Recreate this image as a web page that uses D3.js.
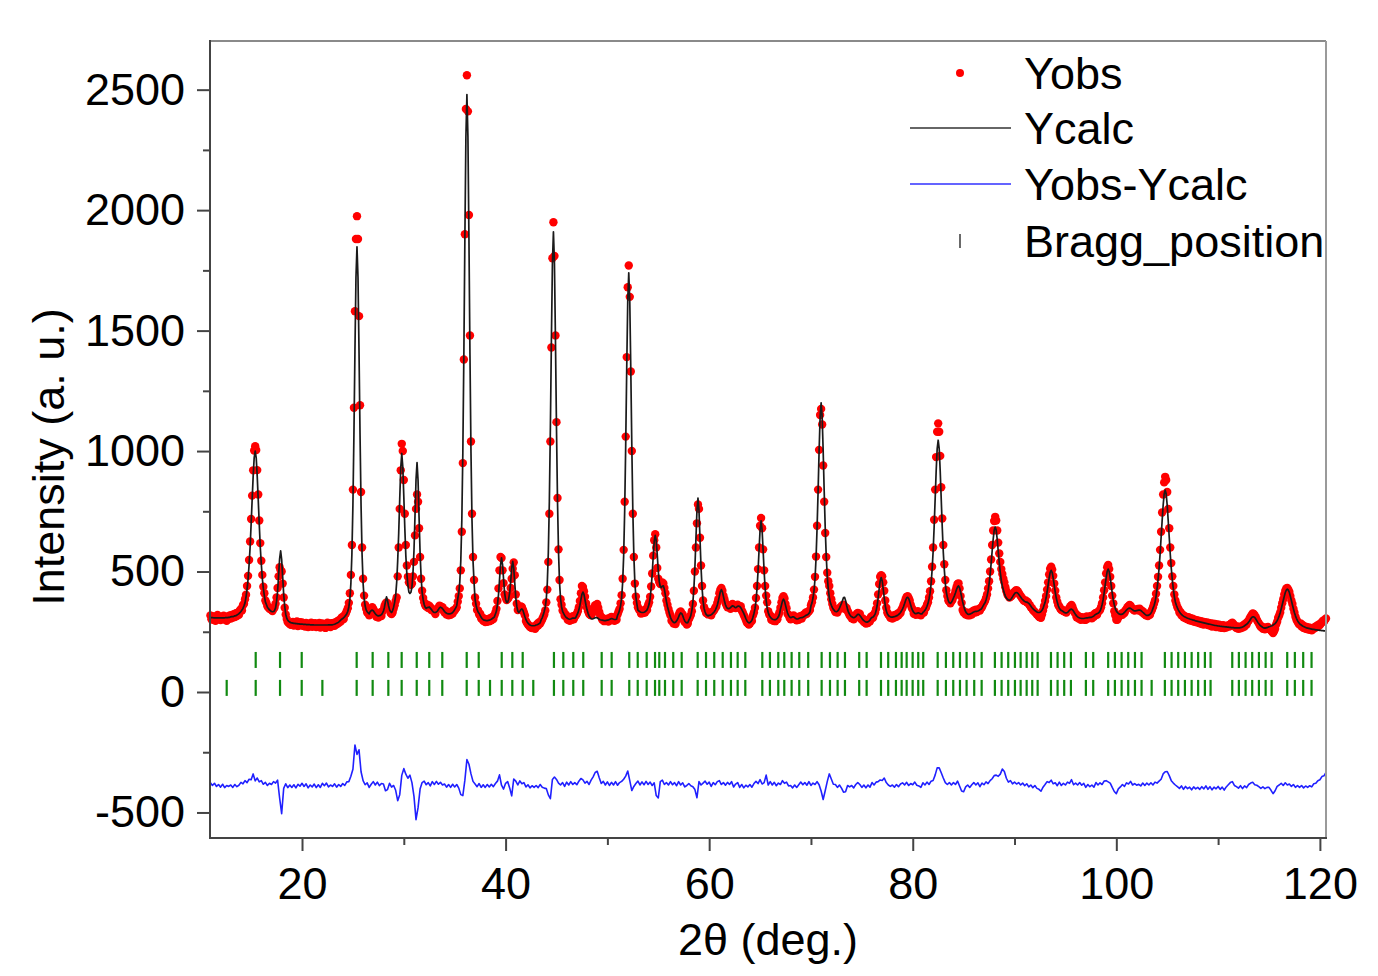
<!DOCTYPE html>
<html><head><meta charset="utf-8">
<script src="https://cdn.jsdelivr.net/npm/d3@7"></script>
<style>body{margin:0;background:#fff} svg{display:block} text{font-family:"Liberation Sans",Arial,sans-serif;fill:#000}</style>
</head><body><svg id="chart" width="1378" height="976"></svg>
<script>
// ---- DATA (2θ rows: row r starts at 11+r deg) ----
const obsStart = 11, obsStep = 0.1;
const yObs = [
[318,302,315,300,312,296,311,320,303,310],
[299,313,305,317,301,308,296,314,304,318],
[305,320,309,323,311,327,315,330,320,338],
[345,338,360,366,385,404,440,482,548,625],
[718,815,920,1002,1020,1004,921,820,712,618],
[545,486,437,410,380,370,356,352,345,347],
[340,336,345,351,366,392,432,480,518,505],
[500,450,392,350,322,303,290,286,282,279],
[280,291,276,288,279,293,274,286,290,277],
[289,275,284,272,287,279,270,283,276,288],
[271,284,275,286,270,280,273,287,268,282],
[285,272,281,266,279,288,274,283,270,286],
[276,287,275,290,281,295,286,300,292,309],
[311,303,320,326,336,348,370,410,486,610],
[840,1180,1580,1880,1975,1880,1560,1190,830,600],
[470,400,362,345,330,334,318,345,341,352],
[345,326,332,312,325,309,321,330,315,334],
[340,356,366,372,368,352,345,328,324,330],
[345,360,378,392,480,600,760,920,1030,1000],
[880,740,610,525,478,455,450,445,450,480],
[540,650,760,820,790,680,560,470,420,390],
[372,360,355,362,348,358,352,340,345,336],
[336,324,340,345,350,358,356,348,352,338],
[330,338,322,330,318,329,320,333,326,340],
[338,345,352,375,398,430,505,665,950,1380],
[1900,2420,2560,2410,1980,1480,1040,740,560,465],
[392,366,340,338,322,325,305,310,296,302],
[290,302,291,303,294,306,298,311,303,318],
[330,345,378,430,505,560,556,505,452,405],
[392,382,386,392,400,432,470,512,538,485],
[405,366,340,345,348,355,353,342,330,318],
[295,286,280,275,270,268,265,272,268,262],
[270,282,276,290,284,294,302,312,322,338],
[372,425,540,740,1040,1430,1800,1950,1810,1480],
[1120,805,592,465,385,362,338,334,316,322],
[315,300,312,296,310,300,315,302,312,318],
[325,335,352,378,410,440,436,418,395,368],
[350,335,325,320,318,326,338,352,360,358],
[365,350,332,318,310,300,305,294,302,295],
[304,292,306,298,312,300,308,296,309,300],
[322,334,345,368,402,470,590,790,1060,1390],
[1680,1770,1640,1330,1000,740,560,450,396,370],
[352,342,340,326,336,328,338,330,345,340],
[360,372,395,438,492,566,630,655,600,515],
[470,455,448,452,455,450,432,410,380,362],
[345,330,318,296,300,284,292,282,298,306],
[320,330,334,325,322,300,290,292,280,284],
[302,310,320,335,365,420,500,600,700,778],
[760,640,525,440,380,352,340,328,330,322],
[325,330,318,332,335,340,350,355,370,385],
[410,425,432,420,400,385,370,360,352,355],
[355,345,362,365,352,360,348,358,362,352],
[348,356,338,330,320,310,300,288,285,280],
[284,296,295,318,330,350,390,440,510,600],
[690,722,680,592,505,440,400,372,335,322],
[318,300,310,296,305,294,308,302,318,330],
[350,372,390,398,388,365,348,325,320,308],
[302,316,305,318,303,310,298,308,300,314],
[315,305,318,322,320,330,325,332,335,340],
[360,372,392,425,478,562,690,840,1005,1150],
[1175,1110,940,790,660,560,495,460,440,410],
[385,365,350,342,332,338,330,345,344,352],
[355,360,362,345,352,348,336,328,318,314],
[306,315,302,316,310,325,328,320,325,305],
[300,305,290,298,284,295,286,300,294,312],
[316,308,322,330,345,368,405,448,478,485],
[480,455,420,380,350,330,322,318,308,315],
[305,318,309,320,312,325,318,330,328,342],
[350,362,372,385,395,398,390,380,362,350],
[342,325,332,320,330,335,322,330,318,328],
[335,330,345,350,362,372,392,418,460,520],
[600,715,840,975,1080,1115,1080,980,850,720],
[610,530,465,422,398,380,375,368,378,382],
[395,405,420,435,448,451,430,398,370,340],
[330,328,322,330,318,326,318,330,322,335],
[338,330,342,332,340,345,338,350,352,362],
[370,378,390,405,430,460,500,550,610,670],
[710,727,712,670,620,575,540,510,490,470],
[455,435,418,405,398,392,395,398,405,412],
[415,420,423,418,412,405,398,392,386,380],
[378,380,372,374,365,360,352,348,340,336],
[332,328,322,318,312,310,308,322,338,356],
[378,398,425,455,488,512,520,508,482,450],
[420,392,375,360,355,345,340,342,336,335],
[332,330,338,342,350,356,361,352,340,330],
[325,310,318,305,312,300,310,302,308,300],
[300,314,305,312,308,316,306,318,312,326],
[328,320,332,336,340,352,368,392,422,455],
[492,518,527,510,478,440,400,368,335,318],
[300,300,310,315,318,325,320,330,328,338],
[345,352,356,361,358,350,345,340,338,342],
[342,345,338,346,340,332,335,325,326,318],
[322,315,325,320,332,340,352,366,380,408],
[440,478,525,590,665,745,820,870,893,880],
[830,760,680,600,535,480,440,405,380,365],
[352,345,330,332,318,322,310,316,306,312],
[302,310,298,306,296,304,292,300,290,298],
[288,296,285,294,282,292,280,290,284,289],
[278,287,276,285,272,283,274,282,270,280],
[270,279,268,276,266,277,265,274,268,275],
[276,272,280,285,288,282,276,270,265,272],
[262,270,264,272,268,278,272,284,280,292],
[296,305,312,320,326,324,318,310,300,292],
[285,276,270,272,262,265,260,268,262,270],
[265,262,255,250,245,252,262,280,292,308],
[318,330,350,368,385,405,420,430,432,425],
[415,398,380,365,346,330,312,300,292,284],
[280,285,272,278,266,272,262,270,260,268],
[258,266,256,264,262,270,268,275,272,280],
[278,285,290,296,292,300,305]
];
const yCalc = [
[309,309,309,308,308,308,308,308,308,308],
[308,308,308,308,308,309,309,309,310,310],
[312,313,313,314,316,317,319,322,325,329],
[334,340,347,358,370,395,426,468,528,601],
[696,797,895,972,1000,972,895,797,696,601],
[531,471,430,399,374,363,352,346,341,338],
[334,333,334,338,349,376,418,484,553,586],
[550,478,405,355,323,306,298,293,290,288],
[287,286,285,285,284,284,283,283,282,282],
[282,281,281,281,280,280,280,280,279,279],
[279,279,278,278,278,278,278,278,278,278],
[278,278,278,278,278,278,279,279,279,279],
[279,280,281,283,285,287,290,294,298,302],
[305,309,313,319,325,335,353,385,450,572],
[775,1068,1414,1720,1848,1720,1414,1068,775,572],
[452,389,358,341,333,328,324,334,338,340],
[337,331,325,320,317,316,317,318,321,327],
[336,352,375,395,380,358,342,334,330,338],
[352,372,400,455,545,660,800,930,990,935],
[812,680,565,490,445,415,409,414,436,493],
[587,731,881,952,878,724,577,478,414,384],
[363,352,347,350,351,353,348,343,337,332],
[330,330,332,336,342,349,352,350,346,340],
[334,330,327,325,324,324,325,327,330,335],
[342,349,358,387,411,456,545,713,994,1400],
[1880,2303,2480,2303,1880,1400,994,713,545,456],
[385,360,343,332,326,318,310,304,300,298],
[297,296,296,297,298,300,302,305,308,312],
[324,336,362,402,463,526,557,529,469,412],
[385,372,372,385,412,457,515,542,513,453],
[392,356,336,330,335,342,345,339,326,312],
[300,292,286,281,278,276,275,275,275,276],
[278,279,281,284,287,300,308,320,335,353],
[387,454,581,792,1097,1458,1777,1910,1777,1458],
[1097,792,581,454,387,353,335,326,318,312],
[308,305,303,302,303,305,307,307,306,310],
[319,328,341,360,383,405,415,405,383,360],
[341,327,316,309,305,303,304,306,308,309],
[308,305,302,300,299,298,297,296,296,297],
[298,299,301,303,305,304,302,301,301,302],
[318,327,340,358,390,454,566,753,1023,1341],
[1622,1740,1622,1341,1023,753,566,454,395,365],
[340,336,333,331,330,330,331,333,336,341],
[352,365,390,430,488,560,625,650,628,570],
[501,458,437,433,440,441,426,401,376,355],
[339,324,310,300,293,289,288,290,295,302],
[312,322,328,326,317,305,295,289,287,288],
[298,306,318,338,372,430,519,635,753,805],
[753,635,519,433,378,347,332,322,318,316],
[318,319,321,324,328,333,340,349,361,378],
[397,416,425,416,397,378,362,352,347,346],
[347,350,355,358,356,352,350,352,356,357],
[355,350,343,335,326,316,305,296,290,287],
[288,292,298,310,326,345,378,429,500,588],
[672,710,672,588,500,429,380,348,330,318],
[311,306,303,301,300,300,302,306,312,322],
[343,360,377,385,377,360,343,328,318,312],
[309,310,312,312,309,305,303,303,305,307],
[308,309,310,312,315,318,320,322,326,333],
[358,370,390,420,470,555,680,830,1000,1140],
[1200,1142,1000,833,684,565,481,427,394,372],
[360,350,343,338,334,333,335,340,348,358],
[368,380,392,393,380,360,342,330,322,316],
[312,310,309,310,313,318,322,322,318,312],
[306,300,296,293,291,290,291,294,299,306],
[310,311,316,323,337,358,391,427,461,475],
[461,427,391,358,337,325,318,314,312,311],
[311,312,313,314,316,318,321,325,330,337],
[345,355,367,380,390,393,388,376,361,347],
[337,330,326,325,326,328,328,326,324,324],
[330,334,339,346,356,368,386,410,448,505],
[581,683,799,915,1009,1045,1009,915,799,683],
[581,509,451,414,393,378,370,368,372,380],
[390,400,412,425,436,440,432,415,395,375],
[358,343,333,327,323,322,323,325,327,330],
[332,334,335,335,336,338,341,343,348,356],
[364,370,382,398,419,449,486,533,584,633],
[671,685,671,633,584,537,495,463,440,424],
[410,398,390,385,382,381,383,388,395,402],
[408,412,413,411,406,400,394,388,383,379],
[376,374,373,371,368,363,357,351,346,342],
[338,335,332,330,330,331,334,339,347,360],
[372,390,415,444,473,496,505,496,473,444],
[415,390,372,358,348,342,338,336,333,330],
[328,328,330,334,339,343,344,341,335,328],
[321,316,312,309,307,306,305,305,305,306],
[307,308,308,309,310,310,311,313,316,320],
[323,325,327,330,336,346,362,382,410,442],
[474,500,510,500,474,442,410,382,362,346],
[336,330,326,323,322,322,323,326,330,335],
[340,344,347,348,347,344,341,338,337,337],
[338,339,340,340,338,335,331,327,323,320],
[318,318,319,322,327,335,347,358,372,396],
[428,465,513,572,641,710,774,822,838,822],
[774,710,641,572,513,465,428,396,374,360],
[349,340,333,327,322,318,315,312,310,308],
[306,305,303,302,301,299,298,297,295,294],
[293,292,291,290,289,288,287,286,285,284],
[283,282,281,280,279,278,277,276,276,275],
[274,274,273,272,272,271,271,270,270,269],
[269,268,268,267,267,267,266,266,266,266],
[266,266,267,268,270,272,275,278,281,285],
[290,296,303,309,312,312,309,303,296,289],
[283,278,274,271,268,266,265,266,267,269],
[271,272,274,275,278,281,284,289,296,305],
[316,329,345,362,380,397,413,423,427,423],
[413,397,380,362,345,329,316,305,296,289],
[284,280,277,274,272,270,268,266,265,264],
[263,262,261,260,260,259,258,258,257,257],
[256,256,255,255,254,254,253]
];
const diffStep = 0.2;
const yDiff = [
[-377,-388,-379,-392,-384],[-395,-383,-397,-388,-392],[-386,-396,-384,-393,-387],[-375,-381,-368,-376,-362],
[-364,-340,-369,-357,-373],[-368,-383,-375,-388,-379],[-384,-372,-378,-366,-440],[-505,-400,-381,-397,-386],
[-396,-385,-398,-383,-391],[-379,-392,-381,-398,-386],[-394,-382,-397,-385,-396],[-379,-389,-378,-394,-386],
[-392,-381,-395,-384,-392],[-380,-388,-373,-372,-350],[-321,-220,-259,-240,-331],[-368,-385,-377,-396,-383],
[-372,-386,-374,-389,-380],[-382,-410,-405,-379,-395],[-388,-408,-451,-426,-346],[-318,-341,-358,-345,-376],
[-433,-530,-480,-403,-376],[-370,-385,-376,-390,-372],[-384,-371,-383,-375,-386],[-382,-395,-384,-396,-383],
[-394,-384,-399,-426,-430],[-366,-280,-300,-340,-371],[-382,-393,-380,-396,-385],[-396,-384,-394,-383,-393],
[-380,-370,-344,-387,-403],[-379,-372,-398,-431,-361],[-370,-386,-369,-381,-376],[-394,-385,-398,-389,-396],
[-388,-397,-384,-395,-399],[-401,-427,-443,-363,-353],[-363,-378,-386,-376,-392],[-374,-386,-372,-384,-376],
[-385,-370,-359,-365,-378],[-371,-384,-366,-352,-334],[-329,-356,-380,-371,-386],[-373,-388,-375,-386,-372],
[-387,-376,-371,-362,-349],[-328,-368,-409,-392,-380],[-370,-386,-373,-385,-371],[-384,-374,-388,-377,-430],
[-440,-372,-366,-384,-376],[-386,-372,-385,-376,-389],[-372,-386,-377,-394,-388],[-380,-389,-393,-405,-439],
[-372,-386,-378,-370,-383],[-374,-392,-376,-385,-372],[-368,-384,-376,-387,-375],[-384,-372,-394,-382,-376],
[-396,-384,-398,-387,-394],[-384,-395,-380,-371,-380],[-364,-382,-376,-345,-386],[-372,-386,-375,-389,-378],
[-384,-368,-379,-374,-390],[-388,-398,-386,-396,-385],[-374,-385,-376,-387,-372],[-388,-378,-384,-372,-385],
[-411,-446,-410,-372,-340],[-361,-383,-384,-396,-386],[-399,-416,-414,-388,-394],[-388,-398,-384,-376,-384],
[-396,-386,-398,-386,-395],[-376,-386,-374,-372,-365],[-367,-357,-376,-386,-392],[-386,-395,-384,-393,-382],
[-377,-386,-375,-388,-380],[-385,-374,-387,-390,-396],[-377,-386,-374,-384,-370],[-367,-345,-315,-315,-335],
[-357,-376,-384,-376,-386],[-376,-384,-370,-390,-411],[-414,-394,-386,-396,-385],[-376,-386,-377,-393,-378],
[-385,-373,-380,-368,-360],[-347,-345,-350,-341,-320],[-330,-358,-374,-368,-381],[-374,-382,-376,-386,-378],
[-389,-381,-394,-386,-397],[-388,-400,-404,-412,-395],[-384,-372,-376,-366,-381],[-377,-389,-374,-388,-379],
[-386,-374,-379,-364,-385],[-378,-386,-376,-387,-379],[-396,-384,-393,-386,-395],[-376,-386,-377,-384,-370],
[-368,-373,-378,-396,-413],[-422,-402,-394,-384,-392],[-377,-382,-371,-386,-380],[-387,-383,-390,-378,-388],
[-378,-386,-377,-386,-374],[-378,-370,-362,-340,-331],[-330,-347,-368,-378,-386],[-393,-400,-390,-404,-392],
[-401,-395,-406,-394,-402],[-396,-404,-393,-402,-390],[-404,-393,-406,-395,-402],[-392,-404,-395,-407,-394],
[-385,-376,-372,-388,-393],[-399,-389,-401,-390,-397],[-384,-378,-375,-385,-387],[-393,-400,-394,-401,-396],
[-396,-408,-422,-410,-392],[-386,-379,-388,-377,-386],[-382,-392,-384,-396,-388],[-396,-388,-398,-390,-396],
[-389,-394,-381,-379,-368],[-364,-351,-348,-334]
];
const braggRow1 = [15.45,17.84,19.97,25.37,26.94,28.48,29.79,31.27,32.50,33.78,36.18,37.36,39.62,40.66,41.68,44.75,45.67,46.65,47.63,49.44,50.42,52.15,52.98,53.86,54.68,55.10,55.66,56.47,57.30,58.87,59.69,60.50,61.33,62.14,62.80,63.55,65.22,65.97,66.79,67.38,68.10,68.85,69.73,71.05,71.87,72.62,73.34,74.74,75.47,76.88,77.59,78.35,78.91,79.40,79.99,80.54,81.03,82.45,83.26,83.98,84.64,85.29,86.04,86.77,88.07,88.73,89.38,90.04,90.60,91.19,91.74,92.27,93.58,94.23,94.88,95.54,97.01,97.73,99.20,99.86,100.52,101.17,101.83,102.48,104.77,105.43,106.08,106.74,107.40,108.04,108.70,109.26,111.39,112.04,112.70,113.35,114.01,114.67,115.26,116.79,117.54,118.36,119.18];
const braggRow2 = [12.60,15.45,17.84,19.97,22.00,25.37,26.94,28.48,29.79,31.27,32.50,33.78,36.18,37.36,38.47,39.62,40.66,41.68,42.72,44.75,45.67,46.65,47.63,49.44,50.42,52.15,52.98,53.86,54.68,55.10,55.66,56.47,57.30,58.87,59.69,60.50,61.33,62.14,62.80,63.55,65.22,65.97,66.79,67.38,68.10,68.85,69.73,71.05,71.87,72.62,73.34,74.74,75.47,76.88,77.59,78.35,78.91,79.40,79.99,80.54,81.03,82.45,83.26,83.98,84.64,85.29,86.04,86.77,88.07,88.73,89.38,90.04,90.60,91.19,91.74,92.27,93.58,94.23,94.88,95.54,97.01,97.73,99.20,99.86,100.52,101.17,101.83,102.48,103.47,104.77,105.43,106.08,106.74,107.40,108.04,108.70,109.26,111.39,112.04,112.70,113.35,114.01,114.67,115.26,116.79,117.54,118.36,119.18];
const braggLevels = [133, 17];
const xTicks = [20, 40, 60, 80, 100, 120];
const xMinor = [30, 50, 70, 90, 110];
const yTicks = [-500, 0, 500, 1000, 1500, 2000, 2500];
const yMinor = [-250, 250, 750, 1250, 1750, 2250];
const legendLabels = ["Yobs", "Ycalc", "Yobs-Ycalc", "Bragg_position"];
const xTitle = "2θ (deg.)", yTitle = "Intensity (a. u.)";

// ---- CHART ----
const L = 210, R = 1326, T = 41, B = 838;
const svg = d3.select("#chart");
svg.append("rect").attr("width", 1378).attr("height", 976).attr("fill", "#fff");
const x = d3.scaleLinear().domain([10.96, 120.6]).range([L, R]);
const y = d3.scaleLinear().domain([-606, 2702]).range([B, T]);

function toPts(rows, step) {
  const pts = [];
  rows.forEach((row, r) => row.forEach((v, j) => pts.push([+(obsStart + r + j * step).toFixed(2), v])));
  return pts;
}
const obsPts = toPts(yObs, obsStep);
const calcPts = toPts(yCalc, obsStep);
const diffPts = toPts(yDiff, diffStep);

const FS = 45;
const fmt = d => String(d);
// Bragg ticks
[braggRow1, braggRow2].forEach((row, k) => {
  svg.append("g").selectAll("line").data(row).join("line")
    .attr("x1", d => x(d)).attr("x2", d => x(d))
    .attr("y1", y(braggLevels[k]) - 8).attr("y2", y(braggLevels[k]) + 8)
    .attr("stroke", "#118a11").attr("stroke-width", 2.2);
});
// difference
const line = d3.line().x(d => x(d[0])).y(d => y(d[1]));
svg.append("path").datum(diffPts).attr("d", line).attr("fill", "none")
  .attr("stroke", "#2020ff").attr("stroke-width", 1.6).attr("stroke-linejoin", "round");
// observed dots
svg.append("g").selectAll("circle").data(obsPts).join("circle")
  .attr("cx", d => x(d[0])).attr("cy", d => y(d[1])).attr("r", 4.2).attr("fill", "#ff0000");
// calculated line
svg.append("path").datum(calcPts).attr("d", line).attr("fill", "none")
  .attr("stroke", "#1a1a1a").attr("stroke-width", 1.7).attr("stroke-linejoin", "round");

// axes
const yAx = svg.append("g").attr("transform", `translate(${L},0)`)
  .call(d3.axisLeft(y).tickValues(yTicks).tickSize(13).tickPadding(12).tickFormat(fmt));
const yAxMin = svg.append("g").attr("transform", `translate(${L},0)`)
  .call(d3.axisLeft(y).tickValues(yMinor).tickSize(7).tickFormat(""));
const xAx = svg.append("g").attr("transform", `translate(0,${B})`)
  .call(d3.axisBottom(x).tickValues(xTicks).tickSize(13).tickPadding(16).tickFormat(fmt));
const xAxMin = svg.append("g").attr("transform", `translate(0,${B})`)
  .call(d3.axisBottom(x).tickValues(xMinor).tickSize(7).tickFormat(""));
[yAx, yAxMin, xAx, xAxMin].forEach(g => {
  g.select(".domain").remove();
  g.selectAll(".tick line").attr("stroke", "#444").attr("stroke-width", 2);
  g.selectAll(".tick text").attr("font-size", FS).attr("font-family", '"Liberation Sans",Arial,sans-serif').attr("fill", "#000");
});
// frame
svg.append("line").attr("x1", L).attr("x2", R).attr("y1", T).attr("y2", T).attr("stroke", "#8a8a8a").attr("stroke-width", 2);
svg.append("line").attr("x1", R).attr("x2", R).attr("y1", T).attr("y2", B).attr("stroke", "#9a9a9a").attr("stroke-width", 2);
svg.append("line").attr("x1", L).attr("x2", L).attr("y1", T - 1).attr("y2", B + 1).attr("stroke", "#444").attr("stroke-width", 2);
svg.append("line").attr("x1", L - 1).attr("x2", R + 1).attr("y1", B).attr("y2", B).attr("stroke", "#444").attr("stroke-width", 2);

// titles
svg.append("text").attr("x", 768).attr("y", 955).attr("text-anchor", "middle").attr("font-size", FS).text(xTitle);
svg.append("text").attr("transform", "translate(64,457) rotate(-90)").attr("text-anchor", "middle").attr("font-size", FS).text(yTitle);

// legend
const lg = svg.append("g");
const rowsY = [73, 128, 184, 241];
lg.append("circle").attr("cx", 960).attr("cy", rowsY[0]).attr("r", 4).attr("fill", "#ff0000");
lg.append("line").attr("x1", 910).attr("x2", 1011).attr("y1", rowsY[1]).attr("y2", rowsY[1]).attr("stroke", "#333").attr("stroke-width", 1.6);
lg.append("line").attr("x1", 910).attr("x2", 1011).attr("y1", rowsY[2]).attr("y2", rowsY[2]).attr("stroke", "#3030ff").attr("stroke-width", 1.6);
lg.append("line").attr("x1", 960).attr("x2", 960).attr("y1", rowsY[3] - 7).attr("y2", rowsY[3] + 7).attr("stroke", "#444").attr("stroke-width", 1.6);
legendLabels.forEach((t, i) => {
  lg.append("text").attr("x", 1024).attr("y", rowsY[i]).attr("dy", "0.35em").attr("font-size", FS).text(t);
});
</script></body></html>
